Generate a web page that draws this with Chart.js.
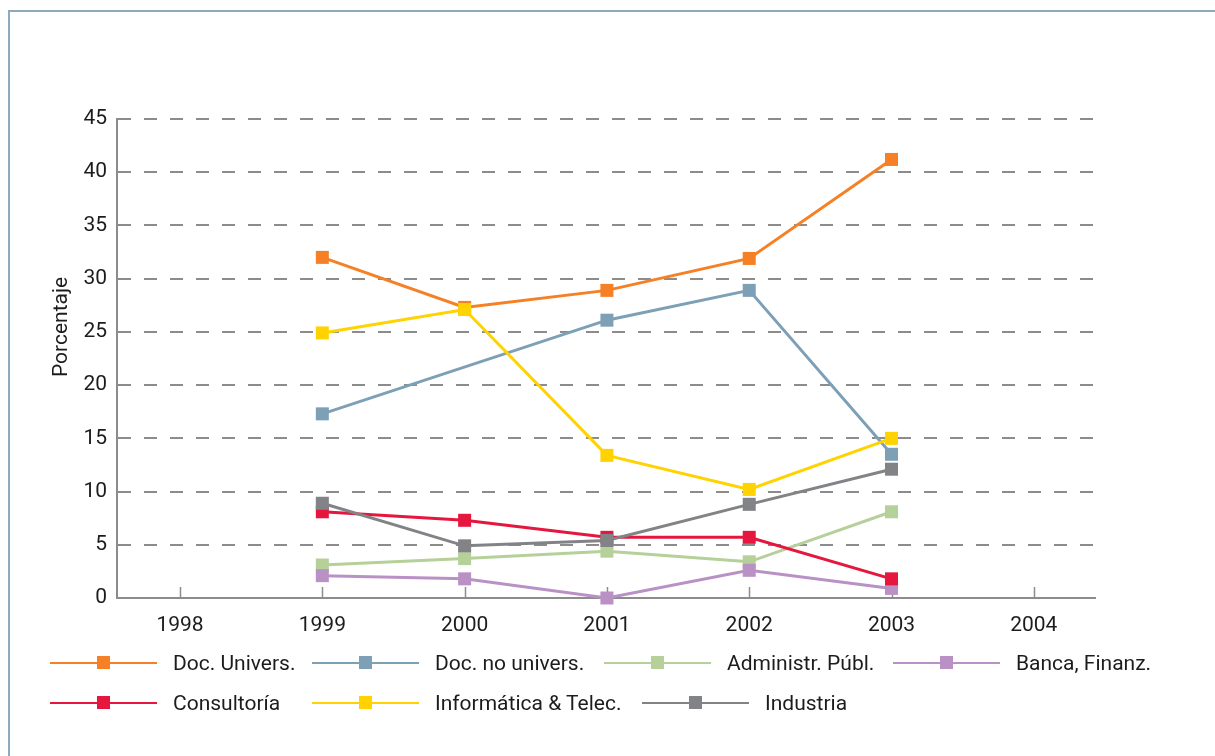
<!DOCTYPE html>
<html>
<head>
<meta charset="utf-8">
<script src="https://cdn.jsdelivr.net/npm/chart.js@4.4.1/dist/chart.umd.min.js"></script>
<style>
  html, body { margin: 0; padding: 0; background: #fff; }
  #wrap { position: relative; width: 1215px; height: 756px; overflow: hidden; font-family: Roboto, "Open Sans", sans-serif; }
  #frame { position: absolute; left: 8px; top: 10px; width: 1240px; height: 780px; border: 2px solid #8fa9bd; box-sizing: border-box; }
  canvas { position: absolute; left: 0; top: 0; }
  .leg { position: absolute; height: 24px; display: flex; align-items: center; font-size: 21px; color: #1e1b1c; white-space: nowrap; }
  .leg .ln { position: relative; width: 107px; height: 2px; margin-right: 16px; }
  .leg .mk { position: absolute; left: 47px; top: -6px; width: 13px; height: 13px; }
</style>
</head>
<body>
<div id="wrap">
  <div id="frame"></div>
  <canvas id="chart" width="1215" height="756"></canvas>
  <div id="legend"></div>
</div>
<script>
// --- données ---
const years = [1999, 2000, 2001, 2002, 2003];
const xTickYears = [1998, 1999, 2000, 2001, 2002, 2003, 2004];
const seriesNames = ['Doc. Univers.', 'Doc. no univers.', 'Administr. Públ.', 'Banca, Finanz.', 'Consultoría', 'Informática & Telec.', 'Industria'];
const docUnivers   = [32.0, 27.3, 28.9, 31.9, 41.2];
const docNoUnivers = [17.3, null, 26.1, 28.9, 13.5];
const adminPubl    = [3.1, 3.7, 4.4, 3.4, 8.1];
const bancaFinanz  = [2.1, 1.8, 0.0, 2.6, 0.9];
const consultoria  = [8.1, 7.3, 5.7, 5.7, 1.8];
const informatica  = [24.9, 27.1, 13.4, 10.2, 15.0];
const industria    = [8.9, 4.9, 5.4, 8.8, 12.1];
const yTitle = 'Porcentaje';

const allSeries = [docUnivers, docNoUnivers, adminPubl, bancaFinanz, consultoria, informatica, industria];
const colors = ['#f58025', '#7da0b7', '#b5d098', '#b991c5', '#e5173f', '#ffd200', '#828387'];
const FONT = 'Roboto, "Open Sans", sans-serif';
const FSIZE = 21;
const TEXT = '#1e1b1c';
const GRID = '#8c8c8c';

const datasets = allSeries.map((vals, i) => ({
  label: seriesNames[i],
  data: years.map((x, j) => ({ x: x, y: vals[j] })),
  borderColor: colors[i],
  backgroundColor: colors[i],
  borderWidth: 3,
  pointStyle: 'rect',
  pointRadius: 9.2,
  pointHoverRadius: 9.2,
  pointBorderWidth: 0,
  spanGaps: true,
  tension: 0,
  clip: false,
  order: -i
}));

// petites graduations vers l'intérieur + titre de l'axe Y
const axisExtras = {
  id: 'axisExtras',
  beforeDatasetsDraw(chart) {
    const ctx = chart.ctx, xs = chart.scales.x, area = chart.chartArea;
    ctx.save();
    ctx.strokeStyle = GRID;
    ctx.lineWidth = 1.5;
    xs.ticks.forEach(t => {
      const px = Math.round(xs.getPixelForValue(t.value)) + 0.5;
      ctx.beginPath();
      ctx.moveTo(px, area.bottom);
      ctx.lineTo(px, area.bottom - 11);
      ctx.stroke();
    });
    ctx.restore();
  },
  afterDraw(chart) {
    const ctx = chart.ctx;
    ctx.save();
    ctx.translate(62, 327);
    ctx.rotate(-Math.PI / 2);
    ctx.font = FSIZE + 'px ' + FONT;
    ctx.fillStyle = TEXT;
    ctx.textAlign = 'center';
    ctx.textBaseline = 'middle';
    ctx.fillText(yTitle, 0, 0);
    ctx.restore();
  }
};

const chart = new Chart(document.getElementById('chart').getContext('2d'), {
  type: 'line',
  data: { datasets: datasets },
  options: {
    responsive: false,
    animation: false,
    devicePixelRatio: 1,
    layout: { padding: { left: 0, top: 119, right: 120, bottom: 108 } },
    plugins: { legend: { display: false }, tooltip: { enabled: false } },
    scales: {
      x: {
        type: 'linear',
        min: 1997.557,
        max: 2004.43,
        afterBuildTicks: s => { s.ticks = xTickYears.map(v => ({ value: v })); },
        afterFit: s => { s.height = 50; s.paddingLeft = 0; s.paddingRight = 0; },
        grid: { display: false, drawTicks: false },
        border: { display: true, color: GRID, width: 2 },
        ticks: { padding: 15, color: TEXT, font: { family: FONT, size: FSIZE }, callback: v => String(v), maxRotation: 0, autoSkip: false }
      },
      y: {
        min: 0,
        max: 45,
        afterFit: s => { s.width = 117; s.paddingTop = 0; s.paddingBottom = 0; },
        grid: { color: GRID, lineWidth: 2, drawTicks: false },
        border: { display: true, color: GRID, width: 2, dash: [13, 13] },
        ticks: { stepSize: 5, padding: 10, color: TEXT, font: { family: FONT, size: FSIZE } }
      }
    }
  },
  plugins: [axisExtras]
});

// --- légende HTML ---
const legendSlots = [[50, 663], [312, 663], [604, 663], [893, 663], [50, 703], [312, 703], [642, 703]];
const legend = document.getElementById('legend');
seriesNames.forEach((name, i) => {
  const [lx, ly] = legendSlots[i];
  legend.innerHTML += `<div class="leg" style="left:${lx}px;top:${ly - 12}px"><div class="ln" style="background:${colors[i]}"><div class="mk" style="background:${colors[i]}"></div></div>${name}</div>`;
});
</script>
</body>
</html>
